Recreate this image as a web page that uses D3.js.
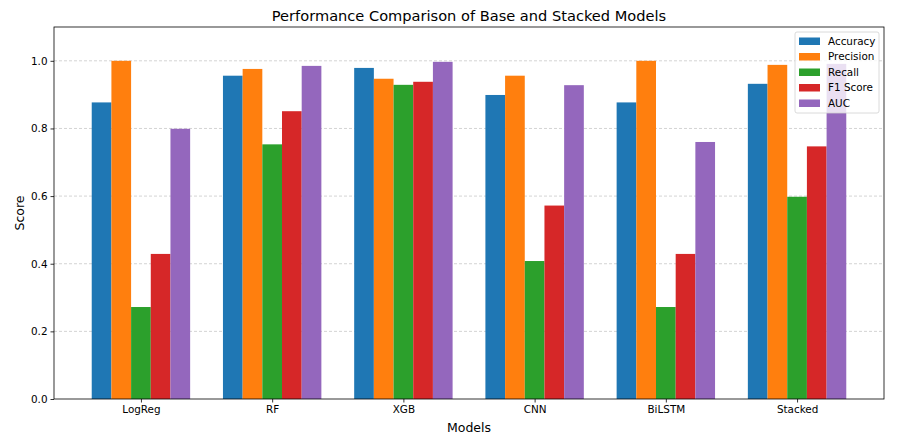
<!DOCTYPE html>
<html><head><meta charset="utf-8">
<script src="https://cdn.jsdelivr.net/npm/d3@7"></script>
<style>body{margin:0;background:#fff}svg{display:block}text{font-family:"DejaVu Sans",sans-serif}</style>
</head><body>
<svg id="c" width="902" height="439"></svg>
<script>
const models = ["LogReg","RF","XGB","CNN","BiLSTM","Stacked"];
const metrics = ["Accuracy","Precision","Recall","F1 Score","AUC"];
const accuracy  = [0.877,0.956,0.979,0.899,0.877,0.932];
const precision = [1.000,0.976,0.947,0.956,1.000,0.988];
const recall    = [0.272,0.753,0.929,0.408,0.272,0.598];
const f1        = [0.429,0.851,0.938,0.572,0.429,0.747];
const auc       = [0.799,0.985,0.997,0.928,0.760,0.991];
const yTicks = [0.0,0.2,0.4,0.6,0.8,1.0];
const colors = ["#1f77b4","#ff7f0e","#2ca02c","#d62728","#9467bd"];
const series = [accuracy,precision,recall,f1,auc];

const svg = d3.select("#c");
const L=54,R=884,T=27,B=399;
const bw=0.15;
const x = d3.scaleLinear().domain([-0.6625,5.6625]).range([L,R]);
const y = d3.scaleLinear().domain([0,1.1]).range([B,T]);

// grid
svg.append("g").selectAll("line").data(yTicks.slice(1)).join("line")
  .attr("x1",L).attr("x2",R).attr("y1",d=>y(d)).attr("y2",d=>y(d))
  .attr("stroke","#b0b0b0").attr("stroke-opacity",0.7).attr("stroke-width",0.8)
  .attr("stroke-dasharray","3,2");

// bars
series.forEach((s,k)=>{
  const off=(k-2)*bw;
  svg.append("g").selectAll("rect").data(s).join("rect")
    .attr("x",(d,i)=>x(i+off-bw/2)).attr("width",x(bw)-x(0))
    .attr("y",d=>y(d)).attr("height",d=>y(0)-y(d))
    .attr("fill",colors[k]);
});

// axes
const xa = svg.append("g").attr("transform",`translate(0,${B})`)
  .call(d3.axisBottom(x).tickValues(d3.range(models.length)).tickFormat(i=>models[i]).tickSize(3.5).tickPadding(3));
const ya = svg.append("g").attr("transform",`translate(${L},0)`)
  .call(d3.axisLeft(y).tickValues(yTicks).tickFormat(d3.format(".1f")).tickSize(3.5).tickPadding(3));
[xa,ya].forEach(a=>{a.select(".domain").remove();a.selectAll("text").attr("font-size","10.4px").attr("fill","#000");a.selectAll("line").attr("stroke","#000").attr("stroke-width",0.8);});

svg.append("rect").attr("x",L).attr("y",T).attr("width",R-L).attr("height",B-T)
  .attr("fill","none").attr("stroke","#000").attr("stroke-width",0.8);

svg.append("text").attr("x",(L+R)/2).attr("y",21).attr("text-anchor","middle").attr("font-size","14.6px").text("Performance Comparison of Base and Stacked Models");
svg.append("text").attr("x",(L+R)/2).attr("y",432).attr("text-anchor","middle").attr("font-size","12.5px").text("Models");
svg.append("text").attr("transform",`translate(24,${(T+B)/2}) rotate(-90)`).attr("text-anchor","middle").attr("font-size","12.5px").text("Score");

// legend
const lg = svg.append("g");
lg.append("rect").attr("x",795).attr("y",32).attr("width",84).attr("height",81).attr("rx",2)
  .attr("fill","#fff").attr("fill-opacity",0.8).attr("stroke","#d0d0d0").attr("stroke-width",0.8);
metrics.forEach((m,k)=>{
  const yy=41+k*15.5;
  lg.append("rect").attr("x",799).attr("y",yy-3.5).attr("width",21).attr("height",7.5).attr("fill",colors[k]);
  lg.append("text").attr("x",828).attr("y",yy+3.7).attr("font-size","10.4px").text(m);
});
</script>
</body></html>
